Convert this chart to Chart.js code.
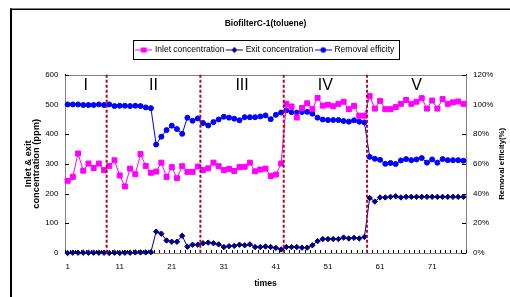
<!DOCTYPE html>
<html lang="en">
<head>
<meta charset="UTF-8">
<title>BiofilterC-1(toluene)</title>
<script src="https://cdn.jsdelivr.net/npm/chart.js@4/dist/chart.umd.min.js"></script>
<style>
  * { margin: 0; padding: 0; box-sizing: border-box; }
  body { background: #fff; width: 510px; height: 297px; overflow: hidden; }
  canvas { display: block; }
</style>
</head>
<body>
<canvas id="chart" width="510" height="297"></canvas>
<script>
// run number (x categories)
const times = [1, 2, 3, 4, 5, 6, 7, 8, 9, 10,
  11, 12, 13, 14, 15, 16, 17, 18, 19, 20,
  21, 22, 23, 24, 25, 26, 27, 28, 29, 30,
  31, 32, 33, 34, 35, 36, 37, 38, 39, 40,
  41, 42, 43, 44, 45, 46, 47, 48, 49, 50,
  51, 52, 53, 54, 55, 56, 57, 58, 59, 60,
  61, 62, 63, 64, 65, 66, 67, 68, 69, 70,
  71, 72, 73, 74, 75, 76, 77];

// inlet concentration (ppm)
const inlet = [243, 256, 335, 277, 301, 286, 301, 279, 293, 312,
  261, 224, 284, 265, 333, 293, 270, 274, 304, 256,
  289, 252, 292, 273, 273, 291, 279, 285, 304, 292,
  279, 283, 276, 289, 290, 304, 275, 281, 284, 259,
  264, 301, 502, 493, 456, 488, 504, 484, 522, 496,
  499, 494, 502, 509, 484, 495, 462, 462, 528, 486,
  512, 484, 484, 491, 502, 515, 502, 509, 521, 486,
  513, 486, 518, 502, 507, 510, 502];

// exit concentration (ppm)
const exitConc = [0, 1, 1, 1, 1, 1, 1, 1, 0, 1,
  0, 1, 1, 2, 2, 2, 3, 72, 65, 42,
  38, 38, 58, 21, 28, 28, 33, 35, 33, 29,
  20, 23, 24, 28, 26, 29, 20, 20, 22, 20,
  17, 12, 20, 20, 20, 18, 18, 26, 40, 47,
  47, 47, 47, 52, 49, 51, 49, 54, 185, 173,
  187, 187, 189, 191, 187, 189, 189, 189, 189, 189,
  189, 189, 189, 189, 189, 189, 189];

// removal efficiency (%)
const removal = [100, 100, 100, 99.6, 99.6, 99.6, 100, 99.6, 100, 98.9,
  99.1, 99.1, 98.9, 99.1, 98.9, 98, 97.5, 73, 78.3, 82.7,
  85.7, 83.4, 80.2, 91.1, 89, 90.6, 87.5, 85.8, 88.1, 89.9,
  91.7, 91.1, 90.4, 89.3, 91.4, 91.4, 91.4, 91.9, 92.6, 90.1,
  93, 94.5, 96, 94.8, 94.5, 94.9, 95, 93.8, 91.1, 89.8,
  89.5, 89.5, 89.5, 88.8, 88.4, 89.3, 88.4, 87.9, 64.7, 63.4,
  62.7, 60, 60.6, 59.9, 62.3, 63.2, 62.5, 63, 63.9, 60.8,
  63, 60.8, 63.2, 62.5, 62.5, 62.5, 62.1];

// axis labels
const xTickLabels = [1, 11, 21, 31, 41, 51, 61, 71];
const ppmTicks = [0, 100, 200, 300, 400, 500, 600];
const pctTicks = [0, 20, 40, 60, 80, 100, 120];

// operating phases: last run of each phase (except the final one)
const phaseNames = ['I', 'II', 'III', 'IV', 'V'];
const phaseEnds = [8, 26, 42, 58];

const FONT = "'Liberation Sans', Arial, sans-serif";
Chart.defaults.font.family = FONT;
Chart.defaults.color = '#000';

const INLET = '#ff00ff', EXIT = '#000080', REMOVAL = '#0000ff';

// little line + marker pictures for the legend
function legendSample(color, shape) {
  const c = document.createElement('canvas');
  c.width = 17; c.height = 9;
  const g = c.getContext('2d');
  g.strokeStyle = color; g.fillStyle = color; g.lineWidth = 1;
  g.beginPath(); g.moveTo(0, 4.5); g.lineTo(17, 4.5); g.stroke();
  g.beginPath();
  if (shape === 'rect') g.rect(5.5, 2, 6, 5);
  else if (shape === 'rectRot') { g.moveTo(8.5, 1.5); g.lineTo(11.5, 4.5); g.lineTo(8.5, 7.5); g.lineTo(5.5, 4.5); g.closePath(); }
  else g.arc(8.5, 4.5, 2.8, 0, Math.PI * 2);
  g.fill();
  return c;
}
const samples = [legendSample(INLET, 'rect'), legendSample(EXIT, 'rectRot'), legendSample(REMOVAL, 'circle')];

const decor = {
  id: 'decor',
  beforeDraw(chart) {
    const ctx = chart.ctx;
    ctx.save();
    ctx.fillStyle = '#fff';
    ctx.fillRect(0, 0, chart.width, chart.height);
    // outer chart frame (cut off at right and bottom)
    ctx.fillStyle = '#000';
    ctx.fillRect(10, 8.5, 2, chart.height);
    ctx.fillRect(10, 8.5, chart.width, 1.5);
    ctx.restore();
  },
  beforeDatasetsDraw(chart) {
    const {ctx, chartArea: a, scales} = chart;
    ctx.save();
    ctx.strokeStyle = '#808080';
    ctx.lineWidth = 1;
    ctx.strokeRect(Math.round(a.left) + 0.5, Math.round(a.top) + 0.5, Math.round(a.width), Math.round(a.height));
    // inward tick marks
    ctx.strokeStyle = '#000';
    ctx.beginPath();
    for (let k = 0; k <= times.length; k++) {
      const x = Math.round(scales.x.getPixelForValue(k - 0.5)) + 0.5;
      ctx.moveTo(x, a.bottom); ctx.lineTo(x, a.bottom - 3);
    }
    scales.y.ticks.forEach(t => {
      const y = Math.round(scales.y.getPixelForValue(t.value)) + 0.5;
      ctx.moveTo(a.left, y); ctx.lineTo(a.left + 4, y);
    });
    scales.y1.ticks.forEach(t => {
      const y = Math.round(scales.y1.getPixelForValue(t.value)) + 0.5;
      ctx.moveTo(a.right, y); ctx.lineTo(a.right - 4, y);
    });
    ctx.stroke();
    ctx.restore();
  },
  afterDatasetsDraw(chart) {
    const {ctx, chartArea: a} = chart;
    const x = chart.scales.x;
    ctx.save();
    ctx.strokeStyle = '#a0102a';
    ctx.lineWidth = 2;
    ctx.setLineDash([3, 2]);
    phaseEnds.forEach(k => {
      const px = x.getPixelForValue(k - 0.5);
      ctx.beginPath(); ctx.moveTo(px, a.top); ctx.lineTo(px, a.bottom); ctx.stroke();
    });
    ctx.setLineDash([]);
    const bounds = [0, ...phaseEnds, times.length];
    ctx.fillStyle = '#000';
    ctx.font = '16px ' + FONT;
    ctx.textAlign = 'center';
    ctx.textBaseline = 'alphabetic';
    phaseNames.forEach((name, i) => {
      const px = x.getPixelForValue((bounds[i] + bounds[i + 1]) / 2 - 0.5);
      ctx.fillText(name, px, a.top + 15.5);
    });
    ctx.restore();
  },
  afterDraw(chart) {
    const {ctx, chartArea: a} = chart;
    ctx.save();
    // box round the legend
    const hb = chart.legend.legendHitBoxes;
    if (hb.length) {
      const l = hb[0].left - 3.5, r = hb[hb.length - 1].left + hb[hb.length - 1].width + 4.5;
      const t = hb[0].top - 5.3, h = hb[0].height + 10.6;
      ctx.strokeStyle = '#000'; ctx.lineWidth = 1;
      ctx.strokeRect(Math.round(l) + 0.5, Math.round(t) + 0.5, Math.round(r - l), Math.round(h));
    }
    // secondary axis title (reads bottom to top)
    ctx.translate(502, (a.top + a.bottom) / 2);
    ctx.rotate(-Math.PI / 2);
    ctx.font = 'bold 7.8px ' + FONT;
    ctx.textAlign = 'center';
    ctx.textBaseline = 'middle';
    ctx.fillStyle = '#000';
    ctx.fillText('Removal efficity(%)', 0, 0);
    ctx.restore();
  }
};

new Chart(document.getElementById('chart'), {
  type: 'line',
  data: {
    labels: times,
    datasets: [{
      label: 'Inlet concentration',
      data: inlet,
      yAxisID: 'y',
      borderColor: INLET, backgroundColor: INLET,
      borderWidth: 1, pointStyle: 'rect', pointRadius: 3.5, pointBorderWidth: 1,
      clip: false
    }, {
      label: 'Exit concentration',
      data: exitConc,
      yAxisID: 'y',
      borderColor: EXIT, backgroundColor: EXIT,
      borderWidth: 1, pointStyle: 'rectRot', pointRadius: 2.7, pointBorderWidth: 1,
      clip: false
    }, {
      label: 'Removal efficity',
      data: removal,
      yAxisID: 'y1',
      borderColor: REMOVAL, backgroundColor: REMOVAL,
      borderWidth: 1, pointStyle: 'circle', pointRadius: 2.5, pointBorderWidth: 1,
      clip: false
    }]
  },
  options: {
    responsive: false,
    animation: false,
    events: [],
    layout: { padding: 0 },
    plugins: {
      tooltip: { enabled: false },
      title: {
        display: true,
        text: 'BiofilterC-1(toluene)',
        fullSize: false,
        color: '#000',
        font: { size: 8.5, weight: 'bold', lineHeight: 1.2 },
        padding: { top: 18.9, bottom: 13.65 }
      },
      legend: {
        fullSize: false,
        labels: {
          usePointStyle: true,
          pointStyleWidth: 14,
          padding: 3,
          color: '#000',
          font: { size: 8.5 },
          generateLabels(chart) {
            const items = Chart.defaults.plugins.legend.labels.generateLabels(chart);
            items.forEach((it, i) => { it.pointStyle = samples[i]; });
            return items;
          }
        }
      },
      // empty subtitle used as a gap between the legend and the plot
      subtitle: {
        display: true,
        text: '',
        fullSize: false,
        weight: 500,
        font: { size: 1, lineHeight: 10.45 },
        padding: 0
      }
    },
    scales: {
      x: {
        type: 'category',
        offset: true,
        grid: { display: false, drawTicks: false },
        border: { display: true, color: '#000', width: 1 },
        ticks: {
          autoSkip: false, maxRotation: 0, minRotation: 0, padding: 9,
          font: { size: 8 }, color: '#000',
          callback: (v, i) => xTickLabels.includes(times[i]) ? String(times[i]) : ''
        },
        title: {
          display: true, text: 'times', color: '#000',
          font: { size: 8.7, weight: 'bold', lineHeight: 1.2 },
          padding: { top: 0, bottom: 8.5 }
        },
        afterFit: s => { s.height = 44; }
      },
      y: {
        position: 'left',
        min: 0, max: 600,
        afterBuildTicks: s => { s.ticks = ppmTicks.map(v => ({ value: v })); },
        grid: { display: false, drawTicks: false },
        border: { display: true, color: '#000', width: 1 },
        ticks: { padding: 6.5, font: { size: 8 }, color: '#000' },
        title: {
          display: true,
          text: ['Inlet & exit', 'concentration (ppm)'],
          color: '#000',
          font: { size: 9.3, weight: 'bold', lineHeight: 0.92 },
          padding: { top: 24, bottom: 0 }
        },
        afterFit: s => { s.width = 65; }
      },
      y1: {
        position: 'right',
        min: 0, max: 120,
        afterBuildTicks: s => { s.ticks = pctTicks.map(v => ({ value: v })); },
        grid: { display: false, drawTicks: false },
        border: { display: true, color: '#000', width: 1 },
        ticks: { padding: 7, font: { size: 8 }, color: '#000', callback: v => v + '%' },
        afterFit: s => { s.width = 44; }
      }
    }
  },
  plugins: [decor]
});
</script>
</body>
</html>
